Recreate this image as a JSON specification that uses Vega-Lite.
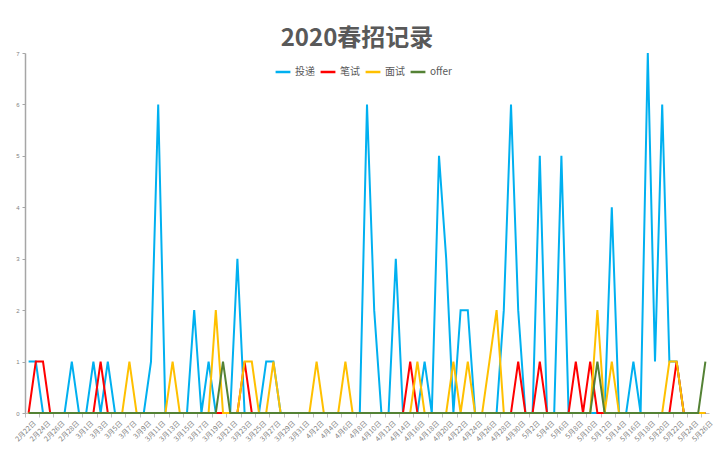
{
  "$schema": "https://vega.github.io/schema/vega-lite/v6.json",
  "width": 684,
  "height": 360,
  "autosize": {"type": "none"},
  "padding": {"left": 25, "top": 53, "right": 11, "bottom": 49},
  "background": "white",
  "title": {"text": "2020春招记录", "font": "Noto Sans CJK SC", "fontSize": 24, "fontWeight": "bold", "color": "#595959", "anchor": "middle", "dx": -10, "offset": -2},
  "data": {"values": [
    {"d":"2月22日","投递":1,"笔试":0,"面试":0,"offer":0},
    {"d":"2月23日","投递":1,"笔试":1,"面试":0,"offer":0},
    {"d":"2月24日","投递":0,"笔试":1,"面试":0,"offer":0},
    {"d":"2月25日","投递":0,"笔试":0,"面试":0,"offer":0},
    {"d":"2月26日","投递":0,"笔试":0,"面试":0,"offer":0},
    {"d":"2月27日","投递":0,"笔试":0,"面试":0,"offer":0},
    {"d":"2月28日","投递":1,"笔试":0,"面试":0,"offer":0},
    {"d":"2月29日","投递":0,"笔试":0,"面试":0,"offer":0},
    {"d":"3月1日","投递":0,"笔试":0,"面试":0,"offer":0},
    {"d":"3月2日","投递":1,"笔试":0,"面试":0,"offer":0},
    {"d":"3月3日","投递":0,"笔试":1,"面试":0,"offer":0},
    {"d":"3月4日","投递":1,"笔试":0,"面试":0,"offer":0},
    {"d":"3月5日","投递":0,"笔试":0,"面试":0,"offer":0},
    {"d":"3月6日","投递":0,"笔试":0,"面试":0,"offer":0},
    {"d":"3月7日","投递":0,"笔试":0,"面试":1,"offer":0},
    {"d":"3月8日","投递":0,"笔试":0,"面试":0,"offer":0},
    {"d":"3月9日","投递":0,"笔试":0,"面试":0,"offer":0},
    {"d":"3月10日","投递":1,"笔试":0,"面试":0,"offer":0},
    {"d":"3月11日","投递":6,"笔试":0,"面试":0,"offer":0},
    {"d":"3月12日","投递":0,"笔试":0,"面试":0,"offer":0},
    {"d":"3月13日","投递":0,"笔试":0,"面试":1,"offer":0},
    {"d":"3月14日","投递":0,"笔试":0,"面试":0,"offer":0},
    {"d":"3月15日","投递":0,"笔试":0,"面试":0,"offer":0},
    {"d":"3月16日","投递":2,"笔试":0,"面试":0,"offer":0},
    {"d":"3月17日","投递":0,"笔试":0,"面试":0,"offer":0},
    {"d":"3月18日","投递":1,"笔试":0,"面试":0,"offer":0},
    {"d":"3月19日","投递":0,"笔试":0,"面试":2,"offer":0},
    {"d":"3月20日","投递":0,"笔试":0,"面试":0,"offer":1},
    {"d":"3月21日","投递":0,"笔试":0,"面试":0,"offer":0},
    {"d":"3月22日","投递":3,"笔试":0,"面试":0,"offer":0},
    {"d":"3月23日","投递":0,"笔试":1,"面试":1,"offer":0},
    {"d":"3月24日","投递":0,"笔试":0,"面试":1,"offer":0},
    {"d":"3月25日","投递":0,"笔试":0,"面试":0,"offer":0},
    {"d":"3月26日","投递":1,"笔试":0,"面试":0,"offer":0},
    {"d":"3月27日","投递":1,"笔试":0,"面试":1,"offer":0},
    {"d":"3月28日","投递":0,"笔试":0,"面试":0,"offer":0},
    {"d":"3月29日","投递":0,"笔试":0,"面试":0,"offer":0},
    {"d":"3月30日","投递":0,"笔试":0,"面试":0,"offer":0},
    {"d":"3月31日","投递":0,"笔试":0,"面试":0,"offer":0},
    {"d":"4月1日","投递":0,"笔试":0,"面试":0,"offer":0},
    {"d":"4月2日","投递":0,"笔试":0,"面试":1,"offer":0},
    {"d":"4月3日","投递":0,"笔试":0,"面试":0,"offer":0},
    {"d":"4月4日","投递":0,"笔试":0,"面试":0,"offer":0},
    {"d":"4月5日","投递":0,"笔试":0,"面试":0,"offer":0},
    {"d":"4月6日","投递":0,"笔试":0,"面试":1,"offer":0},
    {"d":"4月7日","投递":0,"笔试":0,"面试":0,"offer":0},
    {"d":"4月8日","投递":0,"笔试":0,"面试":0,"offer":0},
    {"d":"4月9日","投递":6,"笔试":0,"面试":0,"offer":0},
    {"d":"4月10日","投递":2,"笔试":0,"面试":0,"offer":0},
    {"d":"4月11日","投递":0,"笔试":0,"面试":0,"offer":0},
    {"d":"4月12日","投递":0,"笔试":0,"面试":0,"offer":0},
    {"d":"4月13日","投递":3,"笔试":0,"面试":0,"offer":0},
    {"d":"4月14日","投递":0,"笔试":0,"面试":0,"offer":0},
    {"d":"4月15日","投递":0,"笔试":1,"面试":0,"offer":0},
    {"d":"4月16日","投递":0,"笔试":0,"面试":1,"offer":0},
    {"d":"4月17日","投递":1,"笔试":0,"面试":0,"offer":0},
    {"d":"4月18日","投递":0,"笔试":0,"面试":0,"offer":0},
    {"d":"4月19日","投递":5,"笔试":0,"面试":0,"offer":0},
    {"d":"4月20日","投递":3,"笔试":0,"面试":0,"offer":0},
    {"d":"4月21日","投递":0,"笔试":0,"面试":1,"offer":0},
    {"d":"4月22日","投递":2,"笔试":0,"面试":0,"offer":0},
    {"d":"4月23日","投递":2,"笔试":0,"面试":1,"offer":0},
    {"d":"4月24日","投递":0,"笔试":0,"面试":0,"offer":0},
    {"d":"4月25日","投递":0,"笔试":0,"面试":0,"offer":0},
    {"d":"4月26日","投递":0,"笔试":0,"面试":1,"offer":0},
    {"d":"4月27日","投递":0,"笔试":0,"面试":2,"offer":0},
    {"d":"4月28日","投递":2,"笔试":0,"面试":0,"offer":0},
    {"d":"4月29日","投递":6,"笔试":0,"面试":0,"offer":0},
    {"d":"4月30日","投递":2,"笔试":1,"面试":0,"offer":0},
    {"d":"5月1日","投递":0,"笔试":0,"面试":0,"offer":0},
    {"d":"5月2日","投递":0,"笔试":0,"面试":0,"offer":0},
    {"d":"5月3日","投递":5,"笔试":1,"面试":0,"offer":0},
    {"d":"5月4日","投递":0,"笔试":0,"面试":0,"offer":0},
    {"d":"5月5日","投递":0,"笔试":0,"面试":0,"offer":0},
    {"d":"5月6日","投递":5,"笔试":0,"面试":0,"offer":0},
    {"d":"5月7日","投递":0,"笔试":0,"面试":0,"offer":0},
    {"d":"5月8日","投递":0,"笔试":1,"面试":0,"offer":0},
    {"d":"5月9日","投递":0,"笔试":0,"面试":0,"offer":0},
    {"d":"5月10日","投递":0,"笔试":1,"面试":0,"offer":0},
    {"d":"5月11日","投递":0,"笔试":0,"面试":2,"offer":1},
    {"d":"5月12日","投递":0,"笔试":0,"面试":0,"offer":0},
    {"d":"5月13日","投递":4,"笔试":0,"面试":1,"offer":0},
    {"d":"5月14日","投递":0,"笔试":0,"面试":0,"offer":0},
    {"d":"5月15日","投递":0,"笔试":0,"面试":0,"offer":0},
    {"d":"5月16日","投递":1,"笔试":0,"面试":0,"offer":0},
    {"d":"5月17日","投递":0,"笔试":0,"面试":0,"offer":0},
    {"d":"5月18日","投递":7,"笔试":0,"面试":0,"offer":0},
    {"d":"5月19日","投递":1,"笔试":0,"面试":0,"offer":0},
    {"d":"5月20日","投递":6,"笔试":0,"面试":0,"offer":0},
    {"d":"5月21日","投递":1,"笔试":0,"面试":1,"offer":0},
    {"d":"5月22日","投递":1,"笔试":1,"面试":1,"offer":0},
    {"d":"5月23日","投递":0,"笔试":0,"面试":0,"offer":0},
    {"d":"5月24日","投递":0,"笔试":0,"面试":0,"offer":0},
    {"d":"5月25日","投递":0,"笔试":0,"面试":0,"offer":0},
    {"d":"5月26日","投递":0,"笔试":0,"面试":0,"offer":1}
  ]},
  "transform": [{"fold": ["投递", "笔试", "面试", "offer"], "as": ["s", "v"]}],
  "mark": {"type": "line", "strokeWidth": 2, "strokeJoin": "miter"},
  "encoding": {
    "x": {
      "field": "d", "type": "ordinal", "sort": null, "bandPosition": 0.5,
      "scale": {"type": "band", "paddingInner": 0, "paddingOuter": 0},
      "axis": {
        "title": null,
        "values": ["2月22日","2月24日","2月26日","2月28日","3月1日","3月3日","3月5日","3月7日","3月9日","3月11日","3月13日","3月15日","3月17日","3月19日","3月21日","3月23日","3月25日","3月27日","3月29日","3月31日","4月2日","4月4日","4月6日","4月8日","4月10日","4月12日","4月14日","4月16日","4月18日","4月20日","4月22日","4月24日","4月26日","4月28日","4月30日","5月2日","5月4日","5月6日","5月8日","5月10日","5月12日","5月14日","5月16日","5月18日","5月20日","5月22日","5月24日","5月26日"],
        "bandPosition": 0,
        "labelOffset": 3.6,
        "labelAngle": -45,
        "labelFontSize": 7,
        "labelFont": "Noto Sans CJK SC",
        "labelColor": "#7f7f7f",
        "labelPadding": 2,
        "tickSize": 4,
        "tickColor": "#bfbfbf",
        "domainColor": "#bfbfbf",
        "domainWidth": 1
      }
    },
    "y": {
      "field": "v", "type": "quantitative",
      "scale": {"domain": [0, 7]},
      "axis": {
        "title": null,
        "values": [0, 1, 2, 3, 4, 5, 6, 7],
        "grid": false,
        "labelFontSize": 6,
        "labelColor": "#7f7f7f",
        "labelPadding": 3,
        "tickSize": 3,
        "tickColor": "#a6a6a6",
        "domainColor": "#a6a6a6",
        "domainWidth": 1.5
      }
    },
    "color": {
      "field": "s", "type": "nominal", "sort": ["投递", "笔试", "面试", "offer"],
      "scale": {"domain": ["投递", "笔试", "面试", "offer"], "range": ["#00B0F0", "#FF0000", "#FFC000", "#548235"]},
      "legend": {
        "title": null,
        "orient": "none",
        "direction": "horizontal",
        "legendX": 249,
        "legendY": 10,
        "symbolType": "stroke",
        "symbolStrokeWidth": 2.5,
        "symbolSize": 220,
        "labelFont": "Noto Sans CJK SC",
        "labelFontSize": 10,
        "labelColor": "#595959",
        "labelOffset": 3,
        "columnPadding": 0
      }
    }
  },
  "config": {"view": {"stroke": null}}
}
